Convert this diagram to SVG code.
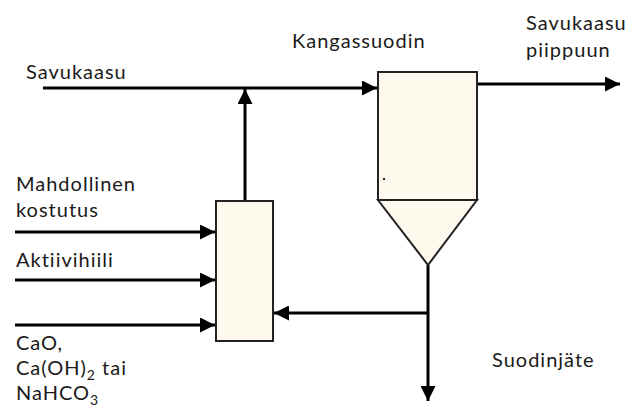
<svg xmlns="http://www.w3.org/2000/svg" width="641" height="411" viewBox="0 0 641 411">
<defs>
<style>
.t{font-family:"Lato","Open Sans",sans-serif;font-size:20px;letter-spacing:1px;fill:#1a1a1a}
.l{stroke:#000;stroke-width:3;fill:none}
.n{fill:url(#dots);stroke:#222;stroke-width:2}
</style>
<pattern id="dots" width="4" height="4" patternUnits="userSpaceOnUse">
<rect width="4" height="4" fill="#fffcef"/>
<rect x="0" y="0" width="1" height="1" fill="#f8e4e4"/>
<rect x="2" y="2" width="1" height="1" fill="#f8e6e0"/>
</pattern>
<marker id="a" viewBox="0 0 10 10" refX="10" refY="5" markerWidth="5" markerHeight="5" markerUnits="strokeWidth" orient="auto"><path d="M0,0 L10,5 L0,10 Z" fill="#000"/></marker>
</defs>
<rect width="641" height="411" fill="#fff"/>
<g id="connectors">
<path class="l" d="M43,88 H377" marker-end="url(#a)"/>
<path class="l" d="M245,201 V89" marker-end="url(#a)"/>
<path class="l" d="M477,84 H620" marker-end="url(#a)"/>
<path class="l" d="M15,232 H215" marker-end="url(#a)"/>
<path class="l" d="M15,280 H215" marker-end="url(#a)"/>
<path class="l" d="M15,325 H215" marker-end="url(#a)"/>
<path class="l" d="M428,313 H274" marker-end="url(#a)"/>
<path class="l" d="M428,265 V401" marker-end="url(#a)"/>
</g>
<g id="filter">
<rect class="n" x="378" y="72" width="99" height="128"/>
<path class="n" d="M378,200 H477 L428,265 Z"/>
<rect x="383" y="178" width="2" height="2" fill="#222"/>
</g>
<g id="mixer">
<rect class="n" x="216" y="201" width="57" height="140"/>
</g>
<g id="labels">
<text class="t" x="292" y="48">Kangassuodin</text>
<text class="t" x="526" y="30">Savukaasu</text>
<text class="t" x="526" y="57">piippuun</text>
<text class="t" x="26" y="79">Savukaasu</text>
<text class="t" x="16" y="191">Mahdollinen</text>
<text class="t" x="16" y="217">kostutus</text>
<text class="t" x="16" y="267">Aktiivihiili</text>
<text class="t" x="16" y="350">CaO,</text>
<text class="t" x="16" y="375">Ca(OH)<tspan font-size="14" dy="5">2</tspan><tspan dy="-5"> tai</tspan></text>
<text class="t" x="16" y="400">NaHCO<tspan font-size="14" dy="5">3</tspan></text>
<text class="t" x="492" y="367">Suodinjäte</text>
</g>
</svg>
